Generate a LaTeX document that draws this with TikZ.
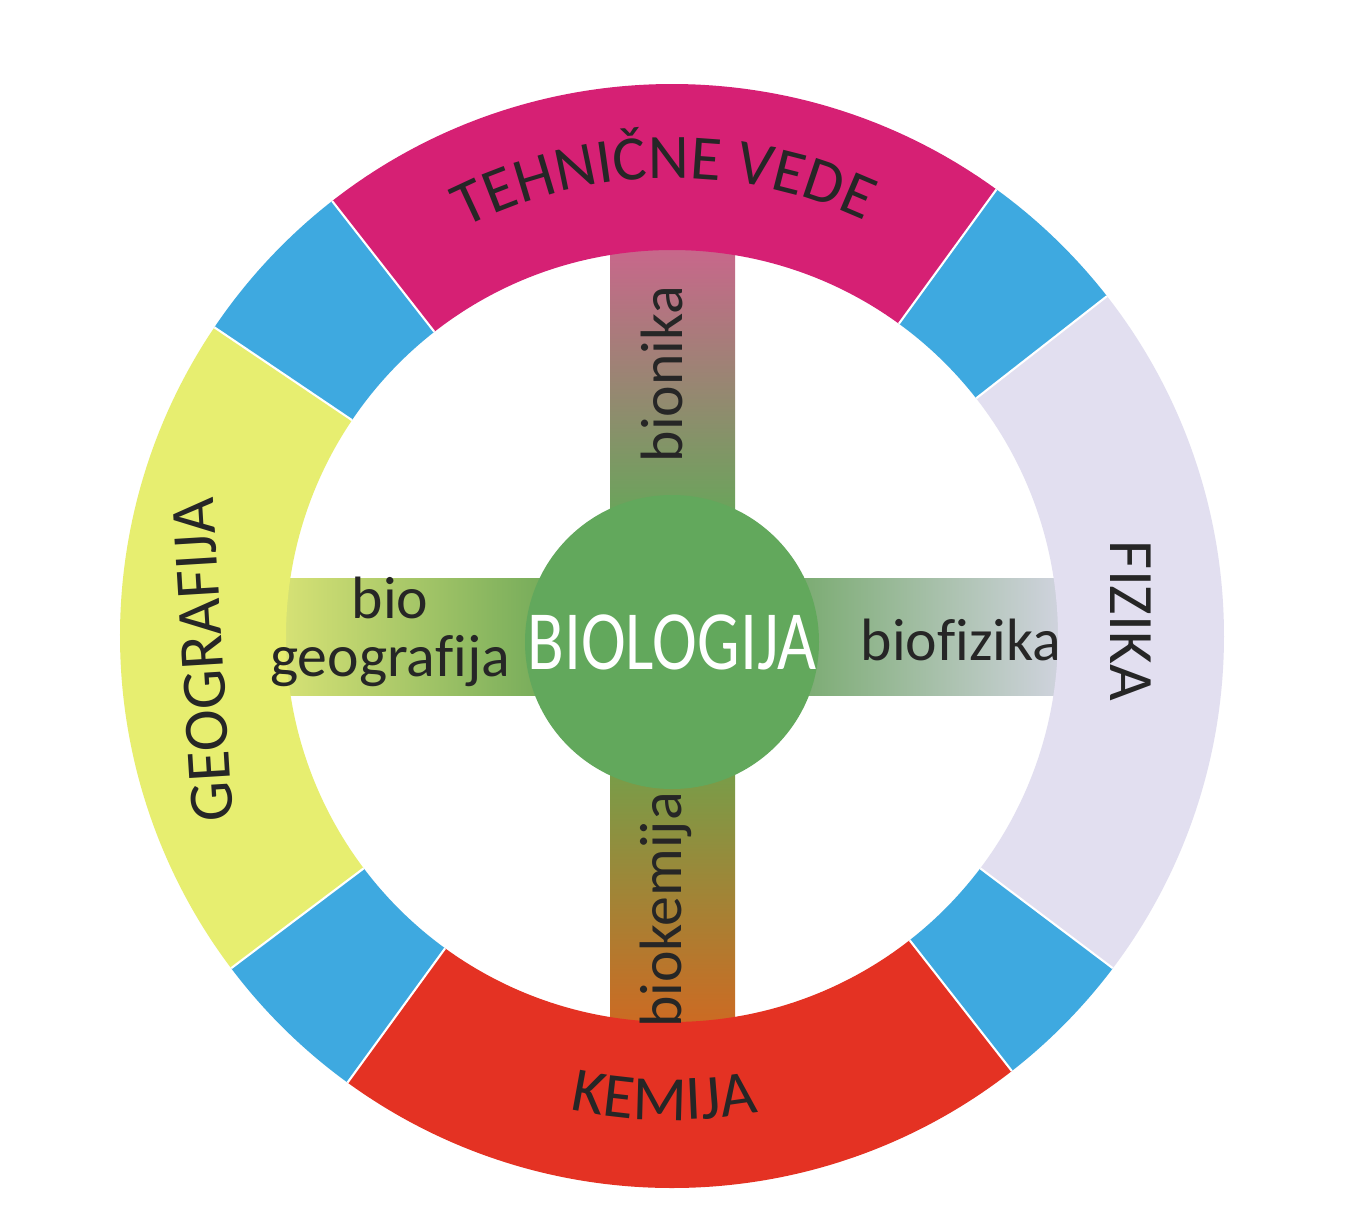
\documentclass[tikz,border=0pt]{standalone}
\usepackage{fontspec}
\usepackage{graphicx}
\setmainfont{Carlito}[Ligatures=CommonOff]
\usetikzlibrary{decorations.text}

\definecolor{ringpink}{RGB}{214,32,116}
\definecolor{ringblue}{RGB}{62,169,224}
\definecolor{ringyellow}{RGB}{231,238,112}
\definecolor{ringlilac}{RGB}{226,223,240}
\definecolor{ringred}{RGB}{228,50,35}
\definecolor{biogreen}{RGB}{98,168,92}

\newcommand{\ringfont}{\fontsize{18}{18}\selectfont}
\newcommand{\barfont}{\fontsize{17}{16.5}\selectfont}

\begin{document}
\begin{tikzpicture}[x=0.1mm, y=0.1mm,
    barlabel/.style={font=\barfont, text=black!85, inner sep=0pt},
    ringtext/.style={font=\ringfont, text=black!85, inner sep=0pt},
    ringlabel/.style={decorate, decoration={text along path, text align=center, text={|\ringfont\color{black!85}|#1}}}]

    % Define the page
    \useasboundingbox (-672,-589) rectangle (673,636);
    \fill[white] (-672,-589) rectangle (673,636);

    % Draw the four bars behind the circle
    \shade[top color={rgb,255:red,212;green,95;blue,145}, middle color={rgb,255:red,172;green,135;blue,120}, bottom color={rgb,255:red,105;green,165;blue,90}] (-62,120) rectangle (63,420);
    \shade[top color={rgb,255:red,115;green,160;blue,75}, middle color={rgb,255:red,175;green,140;blue,45}, bottom color={rgb,255:red,215;green,100;blue,30}] (-62,-420) rectangle (63,-120);
    \shade[left color={rgb,255:red,226;green,232;blue,120}, middle color={rgb,255:red,170;green,205;blue,100}, right color={rgb,255:red,115;green,170;blue,90}] (-420,-59) rectangle (-120,58);
    \shade[left color={rgb,255:red,120;green,170;blue,110}, middle color={rgb,255:red,175;green,195;blue,175}, right color={rgb,255:red,218;green,216;blue,235}] (120,-59) rectangle (420,58);

    % Draw the ring segments
    \foreach \a/\b/\c in {54/128/ringpink, 146/217/ringyellow, 234/308/ringred, -37/38/ringlilac,
                          38/54/ringblue, 128/146/ringblue, 217/234/ringblue, 308/323/ringblue} {
        \fill[\c] (\a:386) arc[start angle=\a, end angle=\b, radius=386]
            -- (\b:552) arc[start angle=\b, end angle=\a, radius=552] -- cycle;
    }

    % White lines between the segments
    \foreach \a in {38,54,128,146,217,234,308,323} {
        \draw[white, line width=0.6pt] (\a:386) -- (\a:552);
    }

    % Ring labels
    \path[ringlabel=TEHNIČNE VEDE] (121:458) arc[start angle=121, end angle=61, radius=458];
    \path[ringlabel=KEMIJA] (243:484) arc[start angle=243, end angle=295, radius=484];
    \node[ringtext, rotate=-90] (fizika) at (459,15) {FIZIKA};
    \node[ringtext, rotate=93.5] (geografija) at (-469,-24) {GEOGRAFIJA};

    % Central circle
    \node[circle, fill=biogreen, minimum size=29.4mm, inner sep=0pt, text=white,
          font=\fontsize{24}{24}\selectfont] (biologija) at (0,-6) {\scalebox{0.8}[1]{BIOLOGIJA}};

    % Bar labels
    \node[barlabel, rotate=90] (bionika) at (-10,262) {bionika};
    \node[barlabel, rotate=90] (biokemija) at (-6,-274) {biokemija};
    \node[barlabel, align=center] (biogeografija) at (-282,4) {bio\\geografija};
    \node[barlabel] (biofizika) at (289,-4) {biofizika};

\end{tikzpicture}
\end{document}
